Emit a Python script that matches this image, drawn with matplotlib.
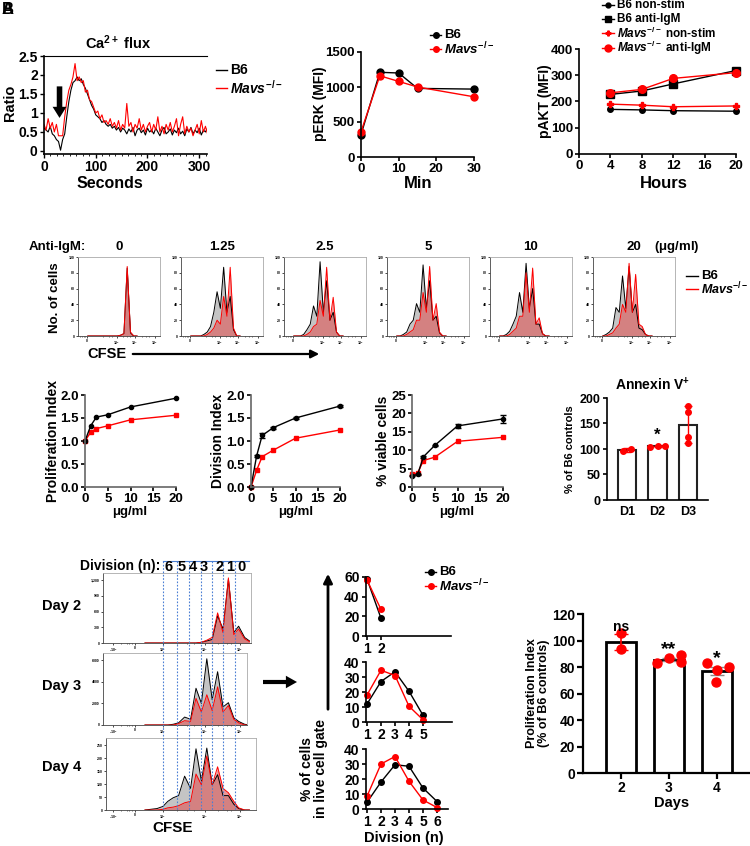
import numpy as np
import matplotlib
matplotlib.use('Agg')
import matplotlib.pyplot as plt

plt.rcParams['font.family'] = ['Liberation Sans', 'DejaVu Sans']
plt.rcParams['font.weight'] = 'bold'
plt.rcParams['axes.labelweight'] = 'bold'
plt.rcParams['mathtext.fontset'] = 'custom'
plt.rcParams['mathtext.rm'] = 'Liberation Sans:bold'
plt.rcParams['mathtext.it'] = 'Liberation Sans:bold:italic'
plt.rcParams['mathtext.bf'] = 'Liberation Sans:bold'
plt.rcParams['axes.linewidth'] = 1.2

MAVS = r'$\mathit{Mavs}^{\mathrm{-/-}}$'

# --- Ca2+ flux (ratio, one value every 4 s) ---
CA_STEP = 4
CA_B6 = [0.6, 0.55, 0.5, 0.65, 0.45, 0.4, 0.3, 0.25, 0.02, 0.3, 0.45, 0.9, 1.3, 1.6, 1.8, 1.85,
         1.95, 1.85, 1.9, 1.75, 1.65, 1.5, 1.35, 1.2, 1.1, 0.95, 0.9, 0.85, 0.75, 0.8, 0.7, 0.65,
         0.7, 0.6, 0.65, 0.55, 0.62, 0.5, 0.6, 0.55, 0.45, 0.58, 0.5, 0.62, 0.4, 0.55, 0.6, 0.48,
         0.55, 0.42, 0.6, 0.5, 0.55, 0.45, 0.6, 0.5, 0.4, 0.55, 0.62, 0.45, 0.5, 0.58, 0.42, 0.55,
         0.48, 0.6, 0.45, 0.52, 0.4, 0.58, 0.5, 0.62, 0.45, 0.55, 0.48, 0.6, 0.42, 0.55, 0.5, 0.6]
CA_MAVS = [0.7, 0.55, 0.85, 0.6, 0.75, 0.5, 0.7, 0.4, 0.4, 0.4, 0.9, 1.3, 1.6, 1.75, 1.95, 2.3,
           1.85, 1.95, 1.8, 1.85, 1.55, 1.6, 1.35, 1.3, 1.15, 1.0, 1.05, 0.85, 0.95, 0.75, 0.8, 0.7,
           0.85, 0.65, 0.75, 0.6, 0.8, 0.55, 0.7, 0.6, 1.25, 0.65, 0.75, 0.5, 0.7, 0.6, 0.85, 0.55,
           0.7, 0.5, 0.65, 0.75, 0.5, 0.7, 0.55, 0.9, 0.5, 0.65, 0.45, 0.7, 0.55, 0.75, 0.5, 0.65,
           0.85, 0.4, 0.7, 0.9, 0.45, 0.65, 0.5, 0.6, 0.4, 0.55, 0.7, 0.45, 0.8, 0.5, 0.65, 0.45]

# --- pERK ---
PERK_MIN = [0, 5, 10, 15, 30]
PERK_B6 = [320, 1210, 1200, 980, 970]
PERK_MAVS = [360, 1160, 1080, 1000, 860]

# --- pAKT ---
AKT_HOURS = [4, 8, 12, 20]
AKT_B6_NS = [170, 168, 165, 163]
AKT_B6_IGM = [227, 240, 267, 318]
AKT_MAVS_NS = [190, 186, 180, 183]
AKT_MAVS_IGM = [233, 246, 288, 310]

# --- CFSE histograms by anti-IgM dose (heights as fraction of max) ---
ANTI_IGM = ['0', '1.25', '2.5', '5', '10', '20']
FLOW_X = [0.12, 0.16, 0.20, 0.24, 0.28, 0.32, 0.36, 0.40, 0.44, 0.48, 0.52, 0.56, 0.60, 0.64, 0.68, 0.72]
FLOW_B6 = [
    [0, 0, 0, 0, 0, 0, 0, 0, 0, 0, 0.01, 0.03, 0.86, 0.04, 0, 0],
    [0, 0, 0, 0, 0.02, 0.05, 0.12, 0.3, 0.56, 0.35, 0.87, 0.3, 0.5, 0.08, 0, 0],
    [0, 0, 0, 0.02, 0.08, 0.15, 0.38, 0.25, 0.94, 0.3, 0.7, 0.2, 0.3, 0.05, 0, 0],
    [0, 0, 0.02, 0.05, 0.15, 0.2, 0.41, 0.3, 0.9, 0.35, 0.7, 0.2, 0.25, 0.04, 0, 0],
    [0, 0, 0.02, 0.06, 0.15, 0.25, 0.55, 0.3, 0.92, 0.35, 0.6, 0.15, 0.15, 0.03, 0, 0],
    [0, 0.02, 0.05, 0.1, 0.36, 0.3, 0.76, 0.35, 0.88, 0.3, 0.4, 0.1, 0.08, 0.02, 0, 0],
]
FLOW_MAVS = [
    [0, 0, 0, 0, 0, 0, 0, 0, 0, 0, 0.01, 0.03, 0.88, 0.05, 0, 0],
    [0, 0, 0, 0, 0, 0.02, 0.05, 0.1, 0.2, 0.15, 0.5, 0.25, 0.87, 0.1, 0, 0],
    [0, 0, 0, 0, 0.02, 0.05, 0.12, 0.15, 0.45, 0.25, 0.87, 0.2, 0.49, 0.05, 0, 0],
    [0, 0, 0, 0.02, 0.05, 0.08, 0.2, 0.2, 0.55, 0.3, 0.88, 0.2, 0.41, 0.05, 0, 0],
    [0, 0, 0, 0.02, 0.06, 0.1, 0.25, 0.25, 0.8, 0.3, 0.86, 0.15, 0.23, 0.03, 0, 0],
    [0, 0, 0.02, 0.04, 0.1, 0.15, 0.4, 0.3, 0.92, 0.3, 0.78, 0.15, 0.12, 0.02, 0, 0],
]

# --- dose response ---
DOSE = [0, 1.25, 2.5, 5, 10, 20]
PI_B6 = [1.0, 1.33, 1.52, 1.57, 1.74, 1.93]
PI_MAVS = [1.0, 1.19, 1.27, 1.33, 1.46, 1.56]
DI_B6 = [0.0, 0.67, 1.12, 1.29, 1.50, 1.76]
DI_B6_ERR = [0, 0.02, 0.05, 0.02, 0.02, 0.02]
DI_MAVS = [0.0, 0.36, 0.66, 0.80, 1.06, 1.24]
VIA_B6 = [3.1, 3.4, 8.2, 11.3, 16.6, 18.5]
VIA_B6_ERR = [0.2, 0.2, 0.3, 0.2, 0.6, 1.2]
VIA_MAVS = [3.5, 3.8, 7.2, 8.1, 12.4, 13.5]

# --- Annexin V ---
ANX_LABELS = ['D1', 'D2', 'D3']
ANX_MEAN = [98, 105, 148]
ANX_SD = [3, 1, 36]
ANX_POINTS = [[96, 100], [104, 105, 106], [185, 172, 123, 112]]
ANX_JIT = [[-0.12, 0.12], [-0.25, 0, 0.25], [0, 0, 0, 0]]

# --- CFSE histograms by day (x in division units, heights as fraction) ---
DAY_NAMES = ['Day 2', 'Day 3', 'Day 4']
DAY_X = [-1.5, -0.5, 0.0, 0.4, 0.85, 1.3, 1.8, 2.3, 2.75, 3.2, 3.65, 4.1, 4.55, 5.0, 5.45, 5.9, 6.3, 6.8, 7.2]
DAY_B6 = [
    [0, 0, 0, 0, 0, 0, 0, 0, 0, 0.01, 0.03, 0.05, 0.39, 0.2, 0.91, 0.15, 0.24, 0.08, 0.03],
    [0, 0, 0, 0, 0.01, 0.03, 0.11, 0.08, 0.51, 0.3, 0.92, 0.35, 0.74, 0.25, 0.31, 0.1, 0.05, 0.01, 0],
    [0, 0.02, 0.05, 0.12, 0.17, 0.2, 0.47, 0.3, 0.85, 0.4, 0.86, 0.35, 0.49, 0.2, 0.2, 0.08, 0.02, 0, 0],
]
DAY_MAVS = [
    [0, 0, 0, 0, 0, 0, 0, 0, 0, 0.01, 0.04, 0.08, 0.43, 0.15, 0.93, 0.12, 0.2, 0.06, 0.02],
    [0, 0, 0, 0, 0, 0.02, 0.06, 0.05, 0.37, 0.18, 0.42, 0.2, 0.53, 0.18, 0.27, 0.08, 0.03, 0, 0],
    [0, 0, 0.01, 0.03, 0.04, 0.06, 0.1, 0.12, 0.5, 0.35, 0.75, 0.35, 0.6, 0.3, 0.24, 0.12, 0.03, 0, 0],
]
GATE_U = [0, 1.17, 2.17, 3.17, 4.08, 5.0, 6.0]
DIV_NUMS = ['6', '5', '4', '3', '2', '1', '0']

# --- % of cells per division ---
DIV_B6 = [[58, 18], [12, 27, 33.5, 20.5, 4.5], [4.5, 18, 29.5, 28.5, 14, 5]]
DIV_MAVS = [[57, 27], [18, 34.5, 31, 10.5, 1.5], [8.5, 30, 35, 18.5, 6, 1]]
DIV_YMAX = [60, 40, 40]

# --- proliferation index % of B6 ---
DAYS = [2, 3, 4]
PROLIF_PCT = [99, 85.5, 77]
PROLIF_ERR = [6, 1.3, 3.2]
PROLIF_PTS = [[105.4, 93.3], [83.2, 86.6, 89, 84], [83, 78, 79.8, 69]]
PROLIF_JIT = [[0, 0], [-0.25, 0, 0.25, 0.25], [-0.2, 0, 0.25, -0.02]]
PROLIF_SIG = ['ns', '**', '*']

W, H = 750, 846
fig = plt.figure(figsize=(7.5, 8.46), dpi=100)


def add_ax(l, t, r, b):
    return fig.add_axes([l / W, 1 - b / H, (r - l) / W, (b - t) / H])


def style(ax, fs=9):
    ax.spines[['top', 'right']].set_visible(False)
    ax.tick_params(labelsize=fs, width=1.2, length=3, pad=1.5)


def flow_style(ax):
    for s in ax.spines.values():
        s.set_color('#aaaaaa')
        s.set_linewidth(0.6)
    ax.spines['left'].set_color('#444444')
    ax.spines['bottom'].set_color('#444444')
    ax.tick_params(length=1.5, width=0.5, pad=0.8, labelsize=2.5)


def flow_fill(ax, x, b6, mavs):
    ax.fill_between(x, b6, color='#c4c4c4', lw=0)
    ax.plot(x, b6, color='black', lw=0.7)
    ax.fill_between(x, mavs, color='#e05555', alpha=0.6, lw=0)
    ax.plot(x, mavs, color='red', lw=0.7)


# ---------- Ca2+ flux ----------
ax = add_ax(44, 56, 207, 154)
t = np.arange(len(CA_B6)) * CA_STEP
ax.plot(t, CA_B6, color='black', lw=0.8)
t = np.arange(len(CA_MAVS)) * CA_STEP
ax.plot(t, CA_MAVS, color='red', lw=0.8)
ax.set_xlim(0, 315)
ax.set_ylim(-0.08, 2.5)
ax.set_xticks([0, 100, 200, 300])
ax.set_xticks(np.arange(0, 316, 12.5), minor=True)
ax.set_yticks([0, 0.5, 1, 1.5, 2, 2.5])
ax.set_yticklabels(['0', '0.5', '1', '1.5', '2', '2.5'])
ax.tick_params(labelsize=10, width=1, length=3, pad=1.5)
ax.tick_params(which='minor', length=1.5, width=0.6)
ax.spines['right'].set_visible(False)
ax.spines['top'].set_linewidth(0.8)
ax.annotate('', xy=(30, 0.87), xytext=(30, 1.7),
            arrowprops=dict(facecolor='black', edgecolor='none', width=4, headwidth=10, headlength=8))

# ---------- pERK ----------
ax = add_ax(361, 52, 474, 157)
ax.plot(PERK_MIN, PERK_B6, '-o', color='black', lw=1, ms=5)
ax.plot(PERK_MIN, PERK_MAVS, '-o', color='red', lw=1, ms=5)
ax.set_xlim(0, 30)
ax.set_ylim(0, 1500)
ax.set_xticks([0, 10, 20, 30])
ax.set_yticks([0, 500, 1000, 1500])
style(ax, 9.5)
for ln in ax.lines:
    ln.set_clip_on(False)

# ---------- pAKT ----------
ax = add_ax(579, 49, 736, 154)
ax.plot(AKT_HOURS, AKT_B6_NS, '-o', color='black', lw=1, ms=4)
ax.plot(AKT_HOURS, AKT_B6_IGM, '-s', color='black', lw=1, ms=5.5)
ax.plot(AKT_HOURS, AKT_MAVS_NS, '-P', color='red', lw=1, ms=4)
ax.plot(AKT_HOURS, AKT_MAVS_IGM, '-o', color='red', lw=1, ms=5.5)
ax.set_xlim(0, 20)
ax.set_ylim(0, 400)
ax.set_xticks([0, 4, 8, 12, 16, 20])
ax.set_yticks([0, 100, 200, 300, 400])
style(ax, 9.5)
for ln in ax.lines:
    ln.set_clip_on(False)

# ---------- CFSE by dose ----------
for i, lab in enumerate(ANTI_IGM):
    l = 78 + 103 * i
    ax = add_ax(l, 257, l + 82, 336)
    flow_fill(ax, FLOW_X, FLOW_B6[i], FLOW_MAVS[i])
    ax.set_xlim(0, 1)
    ax.set_ylim(0, 1)
    ax.set_xticks([0.11, 0.47, 0.69, 0.94])
    ax.set_xticklabels(['0', '10$^3$', '10$^4$', '10$^5$'])
    ax.set_xticks([0.03, 0.05, 0.07, 0.09, 0.3, 0.38, 0.42, 0.55, 0.6, 0.63, 0.78, 0.83, 0.86], minor=True)
    ax.tick_params(which='minor', length=1, width=0.4)
    ax.set_yticks([0, 0.2, 0.4, 0.6, 0.8, 1.0])
    ax.set_yticklabels(['0', '20', '40', '60', '80', '100'])
    flow_style(ax)


# ---------- dose response lines ----------
def dose_ax(l, r, b6, mavs, ymax, yt, ytl, b6_err=None):
    ax = add_ax(l, 395, r, 487)
    ax.errorbar(DOSE, b6, yerr=b6_err, fmt='-o', color='black', lw=1, ms=3, capsize=2, elinewidth=1)
    ax.plot(DOSE, mavs, '-s', color='red', lw=1, ms=3)
    ax.set_xlim(0, 20)
    ax.set_ylim(0, ymax)
    ax.set_xticks([0, 5, 10, 15, 20])
    ax.set_yticks(yt)
    ax.set_yticklabels(ytl)
    style(ax, 9.5)
    for c in ax.get_children():
        try:
            c.set_clip_on(False)
        except Exception:
            pass
    ax.spines['left'].set_color('#666666')
    ax.spines['bottom'].set_color('#666666')
    return ax


idx_t = [0, 0.5, 1.0, 1.5, 2.0]
idx_l = ['0.0', '0.5', '1.0', '1.5', '2.0']
dose_ax(85, 176, PI_B6, PI_MAVS, 2.0, idx_t, idx_l)
dose_ax(251, 340, DI_B6, DI_MAVS, 2.0, idx_t, idx_l, DI_B6_ERR)
dose_ax(412, 503, VIA_B6, VIA_MAVS, 25, [0, 5, 10, 15, 20, 25], ['0', '5', '10', '15', '20', '25'], VIA_B6_ERR)

# ---------- Annexin V ----------
ax = add_ax(607, 398, 708, 500)
xpos = np.arange(1, len(ANX_LABELS) + 1)
ax.bar(xpos, ANX_MEAN, width=0.6, color='white', edgecolor='#222222', lw=1.5, zorder=1)
ax.errorbar(xpos, ANX_MEAN, yerr=ANX_SD, fmt='none', ecolor='red', elinewidth=1, capsize=3, zorder=3)
for k in range(len(ANX_LABELS)):
    ax.plot(xpos[k] + np.array(ANX_JIT[k]), ANX_POINTS[k], 'o', color='red', ms=4, zorder=4)
ax.set_xlim(0.35, 3.65)
ax.set_ylim(0, 200)
ax.set_xticks(xpos)
ax.set_xticklabels(ANX_LABELS)
ax.set_yticks([0, 50, 100, 150, 200])
style(ax, 9)
ax.tick_params(axis='x', length=0, pad=4)
ax.text(2, 112, '*', ha='center', va='bottom', fontsize=12)

# ---------- CFSE by day ----------
U0, UPX = 163, 12
day_boxes = [(103, 573, 251, 643), (103, 653, 247, 725), (106, 738, 256, 810)]
day_yt = [['0', '300', '600', '900', '1,200'], ['0', '2000', '4000', '6000'], ['0', '50', '100', '150', '200', '250']]
for k, (l, tp, r, b) in enumerate(day_boxes):
    ax = add_ax(l, tp, r, b)
    flow_fill(ax, DAY_X, DAY_B6[k], DAY_MAVS[k])
    ax.set_xlim((l - U0) / UPX, (r - U0) / UPX)
    ax.set_ylim(0, 1)
    ax.set_xticks([-4.17, -2.33, 0, 3.5, 6.4])
    ax.set_xticklabels(['-10$^3$', '0', '10$^3$', '10$^4$', '10$^5$'])
    ax.set_xticks([-3.5, -3.0, -2.8, -2.6, 1.2, 2.0, 2.6, 4.6, 5.3, 5.7], minor=True)
    ax.tick_params(which='minor', length=1, width=0.4)
    ny = len(day_yt[k])
    ax.set_yticks(np.linspace(0, 0.9, ny))
    ax.set_yticklabels(day_yt[k])
    flow_style(ax)

# ---------- % cells per division ----------
div_boxes = [(366, 577, 451, 636), (366, 662, 452, 722), (366, 749, 448, 809)]
for k, (l, tp, r, b) in enumerate(div_boxes):
    ax = add_ax(l, tp, r, b)
    n = np.arange(1, len(DIV_B6[k]) + 1)
    ax.plot(n, DIV_B6[k], '-o', color='black', lw=1, ms=4)
    ax.plot(n, DIV_MAVS[k], '-o', color='red', lw=1, ms=4)
    ax.set_xlim(1 - 1 / 14, 1 + (r - 367) / 14)
    ax.set_ylim(0, DIV_YMAX[k])
    ax.set_xticks(n)
    ax.set_yticks(np.arange(0, DIV_YMAX[k] + 1, 20 if DIV_YMAX[k] == 60 else 10))
    style(ax, 10)
    for ln in ax.lines:
        ln.set_clip_on(False)

# ---------- proliferation index % ----------
ax = add_ax(583, 614, 750, 773)
ax.bar(DAYS, PROLIF_PCT, width=0.62, color='white', edgecolor='black', lw=2, zorder=1)
err_cols = ['red', '#888888', '#888888']
for k, d in enumerate(DAYS):
    ax.errorbar(d, PROLIF_PCT[k], yerr=PROLIF_ERR[k], fmt='none', ecolor=err_cols[k],
                elinewidth=1.2, capsize=5, zorder=2)
    ax.plot(d + np.array(PROLIF_JIT[k]), PROLIF_PTS[k], 'o', color='red', ms=6.5, zorder=3)
ax.text(2, 110, PROLIF_SIG[0], ha='center', va='center', fontsize=10)
ax.text(3, 93.5, PROLIF_SIG[1], ha='center', va='center', fontsize=14)
ax.text(4, 86.5, PROLIF_SIG[2], ha='center', va='center', fontsize=14)
ax.set_xlim(1.21, 4.69)
ax.set_ylim(0, 120)
ax.set_xticks(DAYS)
ax.set_yticks([0, 20, 40, 60, 80, 100, 120])
style(ax, 10)
ax.spines['left'].set_linewidth(1.6)
ax.spines['bottom'].set_linewidth(1.6)
ax.tick_params(width=1.6, length=4)

# ---------- overlay: labels, legends, arrows ----------
ov = fig.add_axes([0, 0, 1, 1], zorder=10)
ov.set_xlim(0, W)
ov.set_ylim(H, 0)
ov.axis('off')


def txt(x, y, s, fs=9, rot=0, **kw):
    ov.text(x, y, s, fontsize=fs, rotation=rot, ha=kw.pop('ha', 'center'), va=kw.pop('va', 'center'), **kw)


def leg(x0, x1, y, s, color, marker=None, ms=4, fs=9):
    ov.plot([x0, x1], [y, y], color=color, lw=1)
    if marker:
        ov.plot([(x0 + x1) / 2], [y], marker=marker, color=color, ms=ms)
    txt(x1 + 3, y, s, fs=fs, ha='left')


txt(8, 10, 'A', fs=12)
txt(8, 10, 'B', fs=12)

# Ca flux
txt(118, 43, r'Ca$^{\mathrm{2+}}$ flux', fs=10.5)
txt(110, 183, 'Seconds', fs=11.5)
txt(10, 103, 'Ratio', fs=10.5, rot=90)
leg(216, 227, 70, 'B6', 'black', fs=10)
leg(216, 227, 88, MAVS, 'red', fs=10)

# pERK
txt(320, 104, 'pERK (MFI)', fs=10, rot=90)
txt(418, 184, 'Min', fs=12)
leg(430, 441, 35, 'B6', 'black', 'o', 4, 9.5)
leg(430, 441, 49, MAVS, 'red', 'o', 4, 9.5)

# pAKT
txt(545, 101, 'pAKT (MFI)', fs=10, rot=90)
txt(664, 184, 'Hours', fs=12)
leg(602, 614, 5, 'B6 non-stim', 'black', 'o', 3.5, 8.5)
leg(602, 614, 19, 'B6 anti-IgM', 'black', 's', 4.5, 8.5)
leg(602, 614, 33, MAVS + ' non-stim', 'red', 'P', 3.5, 8.5)
leg(602, 614, 48, MAVS + ' anti-IgM', 'red', 'o', 5, 8.5)

# CFSE dose row
txt(57, 247, 'Anti-IgM:', fs=9.5)
for i, lab in enumerate(ANTI_IGM):
    txt(119 + 103 * i, 247, lab, fs=9.5)
txt(677, 247, r'($\mathrm{\mu}$g/ml)', fs=9.5)
txt(55, 298, 'No. of cells', fs=9.5, rot=90)
txt(107, 354, 'CFSE', fs=10.5)
ov.annotate('', xy=(322, 354), xytext=(130, 354),
            arrowprops=dict(arrowstyle='-|>', lw=1.6, color='black', mutation_scale=12))
leg(686, 698, 276, 'B6', 'black', fs=9.5)
leg(686, 698, 289, MAVS, 'red', fs=9)

# dose response labels
txt(53, 441, 'Proliferation Index', fs=10, rot=90)
txt(218, 441, 'Division Index', fs=10, rot=90)
txt(383, 441, '% viable cells', fs=10, rot=90)
for xc in [130, 296, 457]:
    txt(xc, 512, 'μg/ml', fs=9.5)
txt(653, 385, r'Annexin V$^{\mathrm{+}}$', fs=10)
txt(570, 449, '% of B6 controls', fs=8, rot=90)

# CFSE by day
txt(120, 566, 'Division (n):', fs=10)
for s, xx in zip(DIV_NUMS, [169, 182, 193, 204, 220, 230, 242]):
    txt(xx, 567, s, fs=10.5)
ov.plot([U0, 249], [561, 561], color='#4a7fd4', lw=0.8)
for g in GATE_U:
    ov.plot([U0 + UPX * g] * 2, [561, 810], color='#4a7fd4', lw=0.8, ls=(0, (1.5, 1.5)))
for name, yy in zip(DAY_NAMES, [606, 686, 767]):
    txt(62, yy, name, fs=10.5)
txt(173, 828, 'CFSE', fs=11)
ov.annotate('', xy=(297, 682), xytext=(263, 682),
            arrowprops=dict(facecolor='black', edgecolor='none', width=3, headwidth=9, headlength=8))

# % cells per division labels
ov.annotate('', xy=(328, 571), xytext=(328, 712),
            arrowprops=dict(arrowstyle='-|>', lw=2, color='black', mutation_scale=13))
txt(314, 769, '% of cells\nin live cell gate', fs=10, rot=90, linespacing=1.0)
txt(404, 838, 'Division (n)', fs=10.5)
leg(425, 436, 572, 'B6', 'black', 'o', 4, 9.5)
leg(425, 436, 586, MAVS, 'red', 'o', 4, 9.5)

# proliferation % labels
txt(538, 693, 'Proliferation Index\n(% of B6 controls)', fs=9, rot=90, linespacing=1.1)
txt(672, 803, 'Days', fs=10.5)

fig.savefig('out.png', dpi=100)
